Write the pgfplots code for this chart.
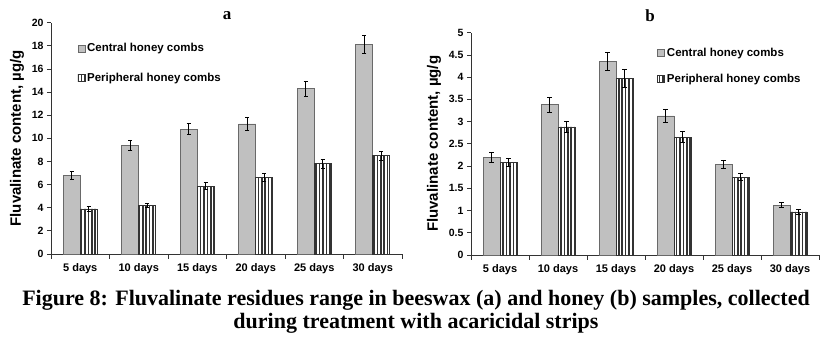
\documentclass[border=0pt]{standalone}
\usepackage{pgfplots}
\pgfplotsset{compat=1.18}
\usepackage{pgfplotstable}
\usetikzlibrary{patterns.meta}
\usepackage{fontspec}
\setmainfont{Liberation Sans}
\newfontfamily\serifb{Liberation Serif}
\definecolor{cgray}{RGB}{192,192,192}
\definecolor{cedge}{RGB}{105,105,105}

\pgfplotstableread{
x c ce p pe
0 6.8 0.35 3.9 0.2
1 9.4 0.45 4.2 0.2
2 10.8 0.45 5.85 0.3
3 11.25 0.55 6.6 0.35
4 14.3 0.65 7.8 0.4
5 18.1 0.8 8.5 0.4
}\dataA
\pgfplotstableread{
x c ce p pe
0 2.2 0.11 2.08 0.09
1 3.38 0.17 2.88 0.13
2 4.35 0.2 3.97 0.2
3 3.13 0.15 2.65 0.12
4 2.03 0.09 1.75 0.08
5 1.12 0.06 0.97 0.05
}\dataB

\pgfplotsset{
 mystyle/.style={
  scale only axis,
  axis x line*=bottom, axis y line*=left,
  axis line style={black!80, line width=0.8pt},
  ybar=0pt, bar width=17pt,
  xmin=-0.5, xmax=5.5,
  xtick={0,...,5},
  xticklabels={5 days,10 days,15 days,20 days,25 days,30 days},
  major x tick style={draw=none},
  minor xtick={-0.5,0.5,...,5.5},
  minor x tick style={black!80, line width=0.8pt},
  minor tick length=5pt,
  major tick length=4pt,
  y tick style={black!80, line width=0.8pt},
  tick align=outside,
  ymin=0,
  /pgf/number format/assume math mode=true,
  /pgf/number format/fixed,
  yticklabel style={font=\bfseries\fontsize{10.5}{12}\selectfont},
  xticklabel style={font=\bfseries\fontsize{11}{12}\selectfont, yshift=-2pt},
  ylabel style={font=\bfseries\fontsize{15}{16}\selectfont},
  legend cell align=left,
  legend image code/.code={\draw[##1] (0pt,-3.5pt) rectangle (7pt,3.5pt);},
  clip=false,
  error bars/y dir=both, error bars/y explicit,
  error bars/error bar style={black, line width=0.9pt},
  error bars/error mark options={rotate=90, black, mark size=2.2pt, line width=0.9pt},
 },
 cstyle/.style={fill=cgray, draw=cedge, line width=0.6pt},
 pstyle/.style={draw=black!80, line width=0.6pt, pattern={Lines[angle=90,distance=3.4pt,line width=1.5pt]}, pattern color=black!80},
}

\begin{document}
\begin{tikzpicture}
\useasboundingbox (0,0) rectangle (826pt,344pt);
% chart a
\begin{axis}[mystyle,
  at={(51pt,90pt)}, anchor=south west,
  width=351pt, height=231.3pt,
  ymax=20, ytick={0,2,...,20},
  ylabel={Fluvalinate content, µg/g},
  ylabel style={at={(axis description cs:-0.0969,0.5)}, anchor=center},
  legend style={draw=none, fill=none, at={(rel axis cs:0.075,0.92)}, anchor=north west, row sep=16pt, font=\bfseries\fontsize{11.5}{12}\selectfont, inner sep=0pt},
]
\addplot[cstyle] table[x=x,y=c,y error=ce] {\dataA};
\addplot[pstyle] table[x=x,y=p,y error=pe] {\dataA};
\legend{Central honey combs, Peripheral honey combs}
\end{axis}
% chart b
\begin{axis}[mystyle,
  at={(471pt,89pt)}, anchor=south west,
  width=348pt, height=222.3pt,
  ymax=5, ytick={0,0.5,...,5},
  yticklabels={0,0.5,1,1.5,2,2.5,3,3.5,4,4.5,5},
  ylabel={Fluvalinate content, µg/g},
  ylabel style={at={(axis description cs:-0.1063,0.5)}, anchor=center},
  legend style={draw=none, fill=none, at={(rel axis cs:0.535,0.94)}, anchor=north west, row sep=12pt, font=\bfseries\fontsize{11.5}{12}\selectfont, inner sep=0pt},
]
\addplot[cstyle] table[x=x,y=c,y error=ce] {\dataB};
\addplot[pstyle] table[x=x,y=p,y error=pe] {\dataB};
\legend{Central honey combs, Peripheral honey combs}
\end{axis}
\node[font=\serifb\bfseries\fontsize{17}{20}\selectfont] at (227pt,328pt) {a};
\node[font=\serifb\bfseries\fontsize{17}{20}\selectfont] at (650pt,328pt) {b};
\node[font=\serifb\bfseries\fontsize{22}{23}\selectfont, align=center, anchor=base] at (416pt,15pt) {Figure 8: Fluvalinate residues range in beeswax (a) and honey (b) samples, collected\\during treatment with acaricidal strips};
\end{tikzpicture}
\end{document}
